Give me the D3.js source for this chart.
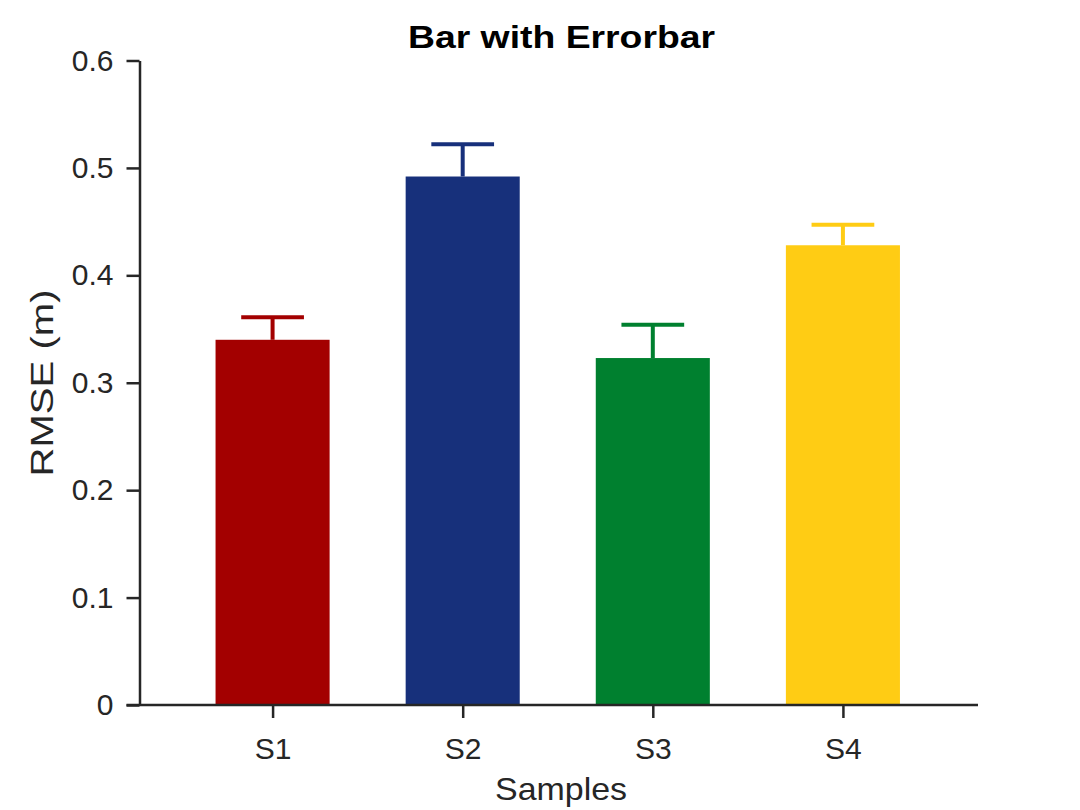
<!DOCTYPE html>
<html>
<head>
<meta charset="utf-8">
<script src="https://cdn.jsdelivr.net/npm/d3@7"></script>
<style>
  html, body { margin: 0; padding: 0; background: #fff; }
  svg { display: block; font-family: "Liberation Sans", Arial, sans-serif; }
</style>
</head>
<body>
<svg id="chart" width="1080" height="810"></svg>
<script>
const categories = ["S1", "S2", "S3", "S4"];
const values = [0.340, 0.492, 0.323, 0.428];
const errors = [0.021, 0.030, 0.031, 0.019];
const colors = ["#A30000", "#17307B", "#00802F", "#FFCC14"];
const yTicks = [0, 0.1, 0.2, 0.3, 0.4, 0.5, 0.6];
const yTickLabels = ["0", "0.1", "0.2", "0.3", "0.4", "0.5", "0.6"];
const titleText = "Bar with Errorbar";
const xLabel = "Samples";
const yLabel = "RMSE (m)";

const svg = d3.select("#chart");
const axisColor = "#262626";
const fontSize = 30;
const fontFam = '"Liberation Sans", Arial, sans-serif';

const x = d3.scaleLinear().domain([0.3, 4.7]).range([139.5, 976]);
const y = d3.scaleLinear().domain([0, 0.6]).range([705, 60.5]);
const barW = x(1.6) - x(1);
const capW = x(1.165) - x(1);

const data = categories.map((c, i) => ({c, i, v: values[i], e: errors[i], col: colors[i]}));

// error bars
const eb = svg.append("g");
data.forEach(d => {
  const cx = x(d.i + 1);
  eb.append("line").attr("x1", cx).attr("x2", cx)
    .attr("y1", y(d.v)).attr("y2", y(d.v + d.e))
    .attr("stroke", d.col).attr("stroke-width", 4);
  eb.append("line").attr("x1", cx - capW).attr("x2", cx + capW)
    .attr("y1", y(d.v + d.e)).attr("y2", y(d.v + d.e))
    .attr("stroke", d.col).attr("stroke-width", 4);
});

// bars
svg.append("g").selectAll("rect").data(data).join("rect")
  .attr("x", d => x(d.i + 1) - barW / 2)
  .attr("width", barW)
  .attr("y", d => y(d.v))
  .attr("height", d => y(0) - y(d.v))
  .attr("fill", d => d.col);

// y axis
const yAxis = d3.axisLeft(y).tickValues(yTicks)
  .tickFormat((d, i) => yTickLabels[i]).tickSize(13).tickPadding(13).tickSizeOuter(0);
const gy = svg.append("g").attr("transform", "translate(139.5,0)").call(yAxis);
gy.select(".domain").attr("stroke", axisColor).attr("stroke-width", 2.5);
gy.selectAll(".tick line").attr("stroke", axisColor).attr("stroke-width", 2.5);
gy.selectAll(".tick text").attr("fill", axisColor).style("font-size", fontSize + "px")
  .style("font-family", fontFam);

// x axis
const xAxis = d3.axisBottom(x).tickValues([1, 2, 3, 4])
  .tickFormat(d => categories[d - 1]).tickSize(13).tickPadding(20).tickSizeOuter(0);
const gx = svg.append("g").attr("transform", "translate(0,705)").call(xAxis);
gx.select(".domain").remove();
gx.append("line").attr("x1", 126.5).attr("x2", 978).attr("y1", 0).attr("y2", 0)
  .attr("stroke", axisColor).attr("stroke-width", 2.5);
gx.selectAll(".tick line").attr("stroke", axisColor).attr("stroke-width", 2.5);
gx.selectAll(".tick text").attr("fill", axisColor).style("font-size", fontSize + "px")
  .style("font-family", fontFam);

// title
svg.append("text").attr("x", 561.5).attr("y", 48).attr("text-anchor", "middle")
  .style("font-size", "32px").style("font-weight", "bold").attr("fill", "#000")
  .attr("textLength", 307).attr("lengthAdjust", "spacingAndGlyphs")
  .text(titleText);

// x label
svg.append("text").attr("x", 561).attr("y", 800).attr("text-anchor", "middle")
  .style("font-size", "32px").attr("fill", axisColor)
  .attr("textLength", 132).attr("lengthAdjust", "spacingAndGlyphs")
  .text(xLabel);

// y label
svg.append("text").attr("transform", "translate(53,383) rotate(-90)")
  .attr("text-anchor", "middle")
  .style("font-size", "32px").attr("fill", axisColor)
  .attr("textLength", 187).attr("lengthAdjust", "spacingAndGlyphs")
  .text(yLabel);
</script>
</body>
</html>
